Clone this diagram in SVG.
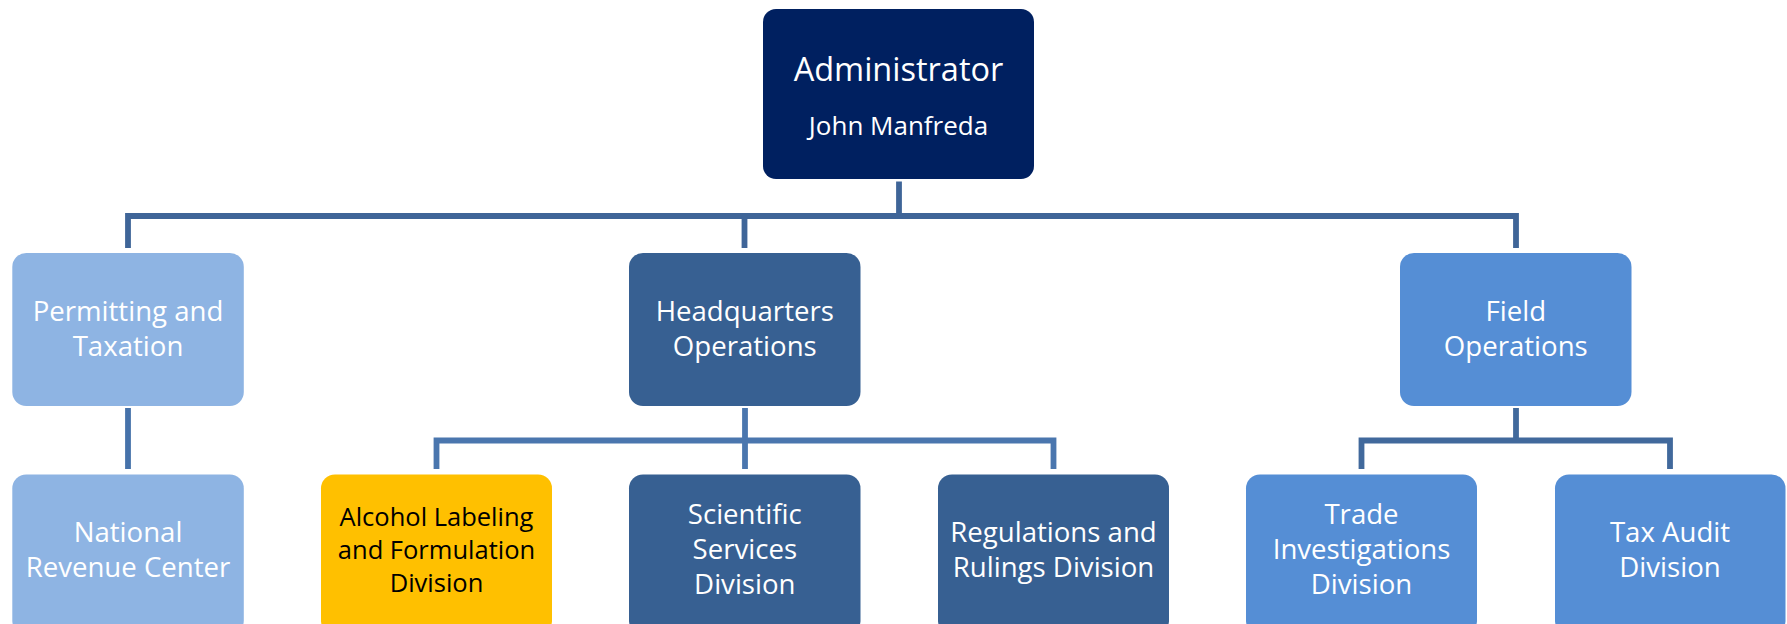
<svg xmlns="http://www.w3.org/2000/svg" width="1787" height="624" viewBox="0 0 1787 624">
  <style>
    .box { stroke: none; }
    .admin { fill: #002060; }
    .light { fill: #8EB4E3; }
    .dark { fill: #376092; }
    .mid { fill: #558ED5; }
    .gold { fill: #FFC000; }
    .t { font-family: "Open Sans", "Noto Sans", sans-serif; text-anchor: middle; fill: #ffffff; font-size: 27.6px; }
    .t-black { fill: #000000; font-size: 25.5px; }
    .t-title { font-size: 32.5px; }
    .t-name { font-size: 26px; }
    .c { fill: none; stroke-width: 5.8; stroke-linejoin: miter; stroke-linecap: butt; }
    .c-top { stroke: #3F6598; }
    .c-pt { stroke: #4672AA; }
    .c-hq { stroke: #4A76AE; }
    .c-fo { stroke: #41699C; }
  </style>

  <g id="connectors">
    <path class="c c-top" d="M899 181.5 V216"/>
    <path class="c c-top" d="M128 248 V216 H1516 V248"/>
    <path class="c c-top" d="M744.5 216 V248"/>
    <path class="c c-pt" d="M128 408 V469"/>
    <path class="c c-hq" d="M745 408 V469"/>
    <path class="c c-hq" d="M436.5 469 V440.5 H1053.5 V469"/>
    <path class="c c-fo" d="M1516 408 V440.5"/>
    <path class="c c-fo" d="M1361.5 469 V440.5 H1670 V469"/>
  </g>

  <g id="administrator">
    <rect class="box admin" x="763" y="9" width="271" height="170" rx="13"/>
    <text class="t t-title" x="898.5" y="81">Administrator</text>
    <text class="t t-name" x="898.5" y="135">John Manfreda</text>
  </g>

  <g id="permitting-taxation">
    <rect class="box light" x="12.3" y="253" width="231.5" height="153" rx="14"/>
    <text class="t" x="128" y="321">Permitting and</text>
    <text class="t" x="128" y="355.7">Taxation</text>
  </g>

  <g id="headquarters-operations">
    <rect class="box dark" x="629" y="253" width="231.5" height="153" rx="14"/>
    <text class="t" x="744.8" y="321">Headquarters</text>
    <text class="t" x="744.8" y="355.7">Operations</text>
  </g>

  <g id="field-operations">
    <rect class="box mid" x="1400" y="253" width="231.5" height="153" rx="14"/>
    <text class="t" x="1515.8" y="321">Field</text>
    <text class="t" x="1515.8" y="355.7">Operations</text>
  </g>

  <g id="national-revenue-center">
    <rect class="box light" x="12.3" y="474.5" width="231.5" height="160" rx="14"/>
    <text class="t" x="128" y="542">National</text>
    <text class="t" x="128" y="577.3">Revenue Center</text>
  </g>

  <g id="alcohol-labeling">
    <rect class="box gold" x="321" y="474.5" width="231" height="160" rx="14"/>
    <text class="t t-black" x="436.5" y="525.5">Alcohol Labeling</text>
    <text class="t t-black" x="436.5" y="558.5">and Formulation</text>
    <text class="t t-black" x="436.5" y="591.5">Division</text>
  </g>

  <g id="scientific-services">
    <rect class="box dark" x="629" y="474.5" width="231.5" height="160" rx="14"/>
    <text class="t" x="744.8" y="524.3">Scientific</text>
    <text class="t" x="744.8" y="559.3">Services</text>
    <text class="t" x="744.8" y="594.3">Division</text>
  </g>

  <g id="regulations-rulings">
    <rect class="box dark" x="938" y="474.5" width="231" height="160" rx="14"/>
    <text class="t" x="1053.5" y="542">Regulations and</text>
    <text class="t" x="1053.5" y="577.3">Rulings Division</text>
  </g>

  <g id="trade-investigations">
    <rect class="box mid" x="1246" y="474.5" width="231" height="160" rx="14"/>
    <text class="t" x="1361.5" y="524.3">Trade</text>
    <text class="t" x="1361.5" y="559.3">Investigations</text>
    <text class="t" x="1361.5" y="594.3">Division</text>
  </g>

  <g id="tax-audit">
    <rect class="box mid" x="1555" y="474.5" width="230.5" height="160" rx="14"/>
    <text class="t" x="1670" y="542">Tax Audit</text>
    <text class="t" x="1670" y="577.3">Division</text>
  </g>
</svg>
